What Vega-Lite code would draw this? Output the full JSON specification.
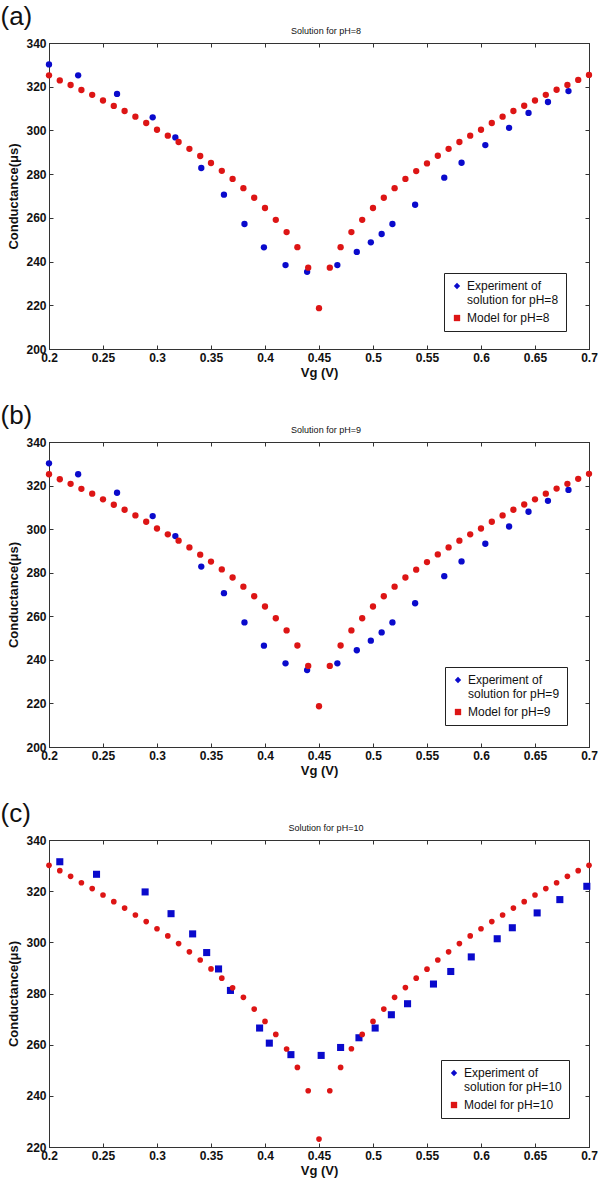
{
  "$schema": "https://vega.github.io/schema/vega-lite/v6.json",
  "background": "white",
  "padding": {"left": 0, "top": 3, "right": 0, "bottom": 0},
  "spacing": 22,
  "config": {
    "font": "Liberation Sans",
    "view": {"stroke": "#333", "strokeWidth": 1},
    "axis": {"grid": false, "labelFlush": false, "domainColor": "#333", "tickColor": "#333", "tickSize": -4, "labelFont": "Liberation Sans", "labelFontWeight": "bold", "labelFontSize": 12, "labelColor": "#111", "labelPadding": 7, "titleFont": "Liberation Sans", "titleFontSize": 13, "titleFontWeight": "bold", "titleColor": "#111"},
    "title": {"font": "Liberation Sans", "color": "#111"},
    "legend": {"title": null, "orient": "none", "strokeColor": "#222", "fillColor": "white", "padding": 7, "labelFont": "Liberation Sans", "labelFontSize": 12, "labelColor": "#111", "symbolSize": 40, "rowPadding": 6, "symbolStrokeWidth": 0}
  },
  "datasets": {
    "expAB": [
      {"v": 0.2, "c": 330.2, "series": "exp"}, {"v": 0.227, "c": 325.2, "series": "exp"}, {"v": 0.263, "c": 316.7, "series": "exp"}, {"v": 0.296, "c": 306.0, "series": "exp"}, {"v": 0.317, "c": 296.8, "series": "exp"}, {"v": 0.341, "c": 282.8, "series": "exp"}, {"v": 0.362, "c": 270.6, "series": "exp"}, {"v": 0.381, "c": 257.2, "series": "exp"}, {"v": 0.399, "c": 246.5, "series": "exp"}, {"v": 0.419, "c": 238.4, "series": "exp"}, {"v": 0.439, "c": 235.3, "series": "exp"}, {"v": 0.467, "c": 238.4, "series": "exp"}, {"v": 0.485, "c": 244.4, "series": "exp"}, {"v": 0.498, "c": 248.8, "series": "exp"}, {"v": 0.508, "c": 252.6, "series": "exp"}, {"v": 0.518, "c": 257.2, "series": "exp"}, {"v": 0.539, "c": 266.0, "series": "exp"}, {"v": 0.566, "c": 278.4, "series": "exp"}, {"v": 0.582, "c": 285.2, "series": "exp"}, {"v": 0.604, "c": 293.3, "series": "exp"}, {"v": 0.626, "c": 301.2, "series": "exp"}, {"v": 0.644, "c": 308.0, "series": "exp"}, {"v": 0.662, "c": 313.0, "series": "exp"}, {"v": 0.681, "c": 318.0, "series": "exp"}
    ],
    "modelAB": [
      {"v": 0.20, "c": 325.2, "series": "model"}, {"v": 0.21, "c": 322.9, "series": "model"}, {"v": 0.22, "c": 320.8, "series": "model"}, {"v": 0.23, "c": 318.5, "series": "model"}, {"v": 0.24, "c": 316.3, "series": "model"}, {"v": 0.25, "c": 313.7, "series": "model"}, {"v": 0.26, "c": 311.2, "series": "model"}, {"v": 0.27, "c": 308.9, "series": "model"}, {"v": 0.28, "c": 306.3, "series": "model"}, {"v": 0.29, "c": 303.4, "series": "model"}, {"v": 0.30, "c": 300.3, "series": "model"}, {"v": 0.31, "c": 297.6, "series": "model"}, {"v": 0.32, "c": 294.7, "series": "model"}, {"v": 0.33, "c": 291.6, "series": "model"}, {"v": 0.34, "c": 288.3, "series": "model"}, {"v": 0.35, "c": 285.1, "series": "model"}, {"v": 0.36, "c": 281.5, "series": "model"}, {"v": 0.37, "c": 277.8, "series": "model"}, {"v": 0.38, "c": 273.6, "series": "model"}, {"v": 0.39, "c": 269.2, "series": "model"}, {"v": 0.40, "c": 264.5, "series": "model"}, {"v": 0.41, "c": 259.1, "series": "model"}, {"v": 0.42, "c": 253.5, "series": "model"}, {"v": 0.43, "c": 246.6, "series": "model"}, {"v": 0.44, "c": 237.2, "series": "model"}, {"v": 0.45, "c": 218.7, "series": "model"}, {"v": 0.46, "c": 237.2, "series": "model"}, {"v": 0.47, "c": 246.6, "series": "model"}, {"v": 0.48, "c": 253.5, "series": "model"}, {"v": 0.49, "c": 259.1, "series": "model"}, {"v": 0.50, "c": 264.5, "series": "model"}, {"v": 0.51, "c": 269.2, "series": "model"}, {"v": 0.52, "c": 273.6, "series": "model"}, {"v": 0.53, "c": 277.8, "series": "model"}, {"v": 0.54, "c": 281.4, "series": "model"}, {"v": 0.55, "c": 284.9, "series": "model"}, {"v": 0.56, "c": 288.4, "series": "model"}, {"v": 0.57, "c": 291.6, "series": "model"}, {"v": 0.58, "c": 294.7, "series": "model"}, {"v": 0.59, "c": 297.6, "series": "model"}, {"v": 0.60, "c": 300.3, "series": "model"}, {"v": 0.61, "c": 303.4, "series": "model"}, {"v": 0.62, "c": 306.3, "series": "model"}, {"v": 0.63, "c": 308.9, "series": "model"}, {"v": 0.64, "c": 311.3, "series": "model"}, {"v": 0.65, "c": 313.7, "series": "model"}, {"v": 0.66, "c": 316.3, "series": "model"}, {"v": 0.67, "c": 318.6, "series": "model"}, {"v": 0.68, "c": 320.8, "series": "model"}, {"v": 0.69, "c": 323.1, "series": "model"}, {"v": 0.70, "c": 325.4, "series": "model"}
    ],
    "expC": [
      {"v": 0.21, "c": 331.5, "series": "exp"}, {"v": 0.244, "c": 326.6, "series": "exp"}, {"v": 0.289, "c": 319.7, "series": "exp"}, {"v": 0.313, "c": 311.2, "series": "exp"}, {"v": 0.333, "c": 303.3, "series": "exp"}, {"v": 0.346, "c": 296.0, "series": "exp"}, {"v": 0.357, "c": 289.6, "series": "exp"}, {"v": 0.368, "c": 281.2, "series": "exp"}, {"v": 0.395, "c": 266.5, "series": "exp"}, {"v": 0.404, "c": 260.6, "series": "exp"}, {"v": 0.424, "c": 256.1, "series": "exp"}, {"v": 0.452, "c": 255.8, "series": "exp"}, {"v": 0.47, "c": 258.9, "series": "exp"}, {"v": 0.487, "c": 262.7, "series": "exp"}, {"v": 0.502, "c": 266.5, "series": "exp"}, {"v": 0.517, "c": 271.7, "series": "exp"}, {"v": 0.532, "c": 276.0, "series": "exp"}, {"v": 0.556, "c": 283.7, "series": "exp"}, {"v": 0.572, "c": 288.6, "series": "exp"}, {"v": 0.591, "c": 294.3, "series": "exp"}, {"v": 0.615, "c": 301.4, "series": "exp"}, {"v": 0.629, "c": 305.7, "series": "exp"}, {"v": 0.652, "c": 311.5, "series": "exp"}, {"v": 0.673, "c": 316.7, "series": "exp"}, {"v": 0.698, "c": 321.9, "series": "exp"}
    ],
    "modelC": [
      {"v": 0.20, "c": 330.1, "series": "model"}, {"v": 0.21, "c": 328.0, "series": "model"}, {"v": 0.22, "c": 325.8, "series": "model"}, {"v": 0.23, "c": 323.3, "series": "model"}, {"v": 0.24, "c": 321.0, "series": "model"}, {"v": 0.25, "c": 318.5, "series": "model"}, {"v": 0.26, "c": 315.9, "series": "model"}, {"v": 0.27, "c": 313.4, "series": "model"}, {"v": 0.28, "c": 310.7, "series": "model"}, {"v": 0.29, "c": 308.1, "series": "model"}, {"v": 0.30, "c": 305.3, "series": "model"}, {"v": 0.31, "c": 302.5, "series": "model"}, {"v": 0.32, "c": 299.5, "series": "model"}, {"v": 0.33, "c": 296.3, "series": "model"}, {"v": 0.34, "c": 293.1, "series": "model"}, {"v": 0.35, "c": 289.6, "series": "model"}, {"v": 0.36, "c": 286.0, "series": "model"}, {"v": 0.37, "c": 282.2, "series": "model"}, {"v": 0.38, "c": 278.5, "series": "model"}, {"v": 0.39, "c": 273.9, "series": "model"}, {"v": 0.40, "c": 269.1, "series": "model"}, {"v": 0.41, "c": 264.0, "series": "model"}, {"v": 0.42, "c": 258.3, "series": "model"}, {"v": 0.43, "c": 251.1, "series": "model"}, {"v": 0.44, "c": 242.0, "series": "model"}, {"v": 0.45, "c": 223.1, "series": "model"}, {"v": 0.46, "c": 242.0, "series": "model"}, {"v": 0.47, "c": 251.1, "series": "model"}, {"v": 0.48, "c": 258.4, "series": "model"}, {"v": 0.49, "c": 264.0, "series": "model"}, {"v": 0.50, "c": 269.1, "series": "model"}, {"v": 0.51, "c": 273.9, "series": "model"}, {"v": 0.52, "c": 278.5, "series": "model"}, {"v": 0.53, "c": 282.3, "series": "model"}, {"v": 0.54, "c": 286.0, "series": "model"}, {"v": 0.55, "c": 289.5, "series": "model"}, {"v": 0.56, "c": 293.1, "series": "model"}, {"v": 0.57, "c": 296.3, "series": "model"}, {"v": 0.58, "c": 299.5, "series": "model"}, {"v": 0.59, "c": 302.5, "series": "model"}, {"v": 0.60, "c": 305.3, "series": "model"}, {"v": 0.61, "c": 308.1, "series": "model"}, {"v": 0.62, "c": 310.7, "series": "model"}, {"v": 0.63, "c": 313.4, "series": "model"}, {"v": 0.64, "c": 315.9, "series": "model"}, {"v": 0.65, "c": 318.5, "series": "model"}, {"v": 0.66, "c": 321.0, "series": "model"}, {"v": 0.67, "c": 323.3, "series": "model"}, {"v": 0.68, "c": 325.8, "series": "model"}, {"v": 0.69, "c": 328.0, "series": "model"}, {"v": 0.70, "c": 330.1, "series": "model"}
    ]
  },
  "resolve": {"scale": {"color": "independent", "shape": "independent"}},
  "vconcat": [
    {
      "title": {"text": "(a)", "anchor": "start", "frame": "bounds", "fontSize": 26, "fontWeight": "normal", "offset": -3, "dx": -7},
      "vconcat": [
        {
          "title": {"text": "Solution for pH=8", "fontSize": 9, "fontWeight": "normal", "offset": 1, "frame": "group", "dx": 7},
          "width": 540, "height": 306,
          "resolve": {"axis": {"x": "independent", "y": "independent"}},
          "layer": [
            {
              "data": {"name": "expAB"},
              "mark": {"type": "point", "filled": true, "size": 12, "opacity": 1},
              "encoding": {
                "x": {"field": "v", "type": "quantitative", "scale": {"domain": [0.2, 0.7], "nice": false, "zero": false}, "axis": {"orient": "bottom", "title": "Vg (V)", "values": [0.2, 0.25, 0.3, 0.35, 0.4, 0.45, 0.5, 0.55, 0.6, 0.65, 0.7], "format": "~g", "titlePadding": 3}},
                "y": {"field": "c", "type": "quantitative", "scale": {"domain": [200, 340], "nice": false, "zero": false}, "axis": {"orient": "left", "title": "Conductance(μs)", "values": [200, 220, 240, 260, 280, 300, 320, 340], "titlePadding": 5}},
                "color": {"field": "series", "type": "nominal", "scale": {"domain": ["exp", "model"], "range": ["#0a0acc", "#dd1515"]}, "legend": {"legendX": 395, "legendY": 230, "labelExpr": "datum.value == 'exp' ? ['Experiment of', 'solution for pH=8'] : 'Model for pH=8'"}},
                "shape": {"field": "series", "type": "nominal", "scale": {"domain": ["exp", "model"], "range": ["diamond", "square"]}, "legend": {"legendX": 395, "legendY": 230, "labelExpr": "datum.value == 'exp' ? ['Experiment of', 'solution for pH=8'] : 'Model for pH=8'"}}
              }
            },
            {
              "data": {"name": "expAB"},
              "mark": {"type": "point", "shape": "circle", "filled": true, "size": 40, "opacity": 1},
              "encoding": {
                "x": {"field": "v", "type": "quantitative", "axis": null},
                "y": {"field": "c", "type": "quantitative", "axis": null},
                "color": {"field": "series", "type": "nominal"}
              }
            },
            {
              "data": {"name": "modelAB"},
              "mark": {"type": "point", "shape": "circle", "filled": true, "size": 40, "opacity": 1},
              "encoding": {
                "x": {"field": "v", "type": "quantitative", "axis": {"orient": "top", "labels": false, "title": null, "values": [0.2, 0.25, 0.3, 0.35, 0.4, 0.45, 0.5, 0.55, 0.6, 0.65, 0.7]}},
                "y": {"field": "c", "type": "quantitative", "axis": {"orient": "right", "labels": false, "title": null, "values": [200, 220, 240, 260, 280, 300, 320, 340]}},
                "color": {"field": "series", "type": "nominal"}
              }
            }
          ]
        }
      ]
    },
    {
      "title": {"text": "(b)", "anchor": "start", "frame": "bounds", "fontSize": 26, "fontWeight": "normal", "offset": -3, "dx": -7},
      "vconcat": [
        {
          "title": {"text": "Solution for pH=9", "fontSize": 9, "fontWeight": "normal", "offset": 1, "frame": "group", "dx": 7},
          "width": 540, "height": 305,
          "resolve": {"axis": {"x": "independent", "y": "independent"}},
          "layer": [
            {
              "data": {"name": "expAB"},
              "mark": {"type": "point", "filled": true, "size": 12, "opacity": 1},
              "encoding": {
                "x": {"field": "v", "type": "quantitative", "scale": {"domain": [0.2, 0.7], "nice": false, "zero": false}, "axis": {"orient": "bottom", "title": "Vg (V)", "values": [0.2, 0.25, 0.3, 0.35, 0.4, 0.45, 0.5, 0.55, 0.6, 0.65, 0.7], "format": "~g", "titlePadding": 3}},
                "y": {"field": "c", "type": "quantitative", "scale": {"domain": [200, 340], "nice": false, "zero": false}, "axis": {"orient": "left", "title": "Conductance(μs)", "values": [200, 220, 240, 260, 280, 300, 320, 340], "titlePadding": 5}},
                "color": {"field": "series", "type": "nominal", "scale": {"domain": ["exp", "model"], "range": ["#0a0acc", "#dd1515"]}, "legend": {"legendX": 396, "legendY": 225, "labelExpr": "datum.value == 'exp' ? ['Experiment of', 'solution for pH=9'] : 'Model for pH=9'"}},
                "shape": {"field": "series", "type": "nominal", "scale": {"domain": ["exp", "model"], "range": ["diamond", "square"]}, "legend": {"legendX": 396, "legendY": 225, "labelExpr": "datum.value == 'exp' ? ['Experiment of', 'solution for pH=9'] : 'Model for pH=9'"}}
              }
            },
            {
              "data": {"name": "expAB"},
              "mark": {"type": "point", "shape": "circle", "filled": true, "size": 40, "opacity": 1},
              "encoding": {
                "x": {"field": "v", "type": "quantitative", "axis": null},
                "y": {"field": "c", "type": "quantitative", "axis": null},
                "color": {"field": "series", "type": "nominal"}
              }
            },
            {
              "data": {"name": "modelAB"},
              "mark": {"type": "point", "shape": "circle", "filled": true, "size": 40, "opacity": 1},
              "encoding": {
                "x": {"field": "v", "type": "quantitative", "axis": {"orient": "top", "labels": false, "title": null, "values": [0.2, 0.25, 0.3, 0.35, 0.4, 0.45, 0.5, 0.55, 0.6, 0.65, 0.7]}},
                "y": {"field": "c", "type": "quantitative", "axis": {"orient": "right", "labels": false, "title": null, "values": [200, 220, 240, 260, 280, 300, 320, 340]}},
                "color": {"field": "series", "type": "nominal"}
              }
            }
          ]
        }
      ]
    },
    {
      "title": {"text": "(c)", "anchor": "start", "frame": "bounds", "fontSize": 26, "fontWeight": "normal", "offset": -3, "dx": -7},
      "vconcat": [
        {
          "title": {"text": "Solution for pH=10", "fontSize": 9, "fontWeight": "normal", "offset": 1, "frame": "group", "dx": 7},
          "width": 540, "height": 307,
          "resolve": {"axis": {"x": "independent", "y": "independent"}},
          "layer": [
            {
              "data": {"name": "expC"},
              "mark": {"type": "point", "filled": true, "size": 12, "opacity": 1},
              "encoding": {
                "x": {"field": "v", "type": "quantitative", "scale": {"domain": [0.2, 0.7], "nice": false, "zero": false}, "axis": {"orient": "bottom", "title": "Vg (V)", "values": [0.2, 0.25, 0.3, 0.35, 0.4, 0.45, 0.5, 0.55, 0.6, 0.65, 0.7], "format": "~g", "titlePadding": 3}},
                "y": {"field": "c", "type": "quantitative", "scale": {"domain": [220, 340], "nice": false, "zero": false}, "axis": {"orient": "left", "title": "Conductance(μs)", "values": [220, 240, 260, 280, 300, 320, 340], "titlePadding": 5}},
                "color": {"field": "series", "type": "nominal", "scale": {"domain": ["exp", "model"], "range": ["#0a0acc", "#dd1515"]}, "legend": {"legendX": 392, "legendY": 220, "labelExpr": "datum.value == 'exp' ? ['Experiment of', 'solution for pH=10'] : 'Model for pH=10'"}},
                "shape": {"field": "series", "type": "nominal", "scale": {"domain": ["exp", "model"], "range": ["diamond", "square"]}, "legend": {"legendX": 392, "legendY": 220, "labelExpr": "datum.value == 'exp' ? ['Experiment of', 'solution for pH=10'] : 'Model for pH=10'"}}
              }
            },
            {
              "data": {"name": "expC"},
              "mark": {"type": "point", "shape": "square", "filled": true, "size": 50, "opacity": 1},
              "encoding": {
                "x": {"field": "v", "type": "quantitative", "axis": null},
                "y": {"field": "c", "type": "quantitative", "axis": null},
                "color": {"field": "series", "type": "nominal"}
              }
            },
            {
              "data": {"name": "modelC"},
              "mark": {"type": "point", "shape": "circle", "filled": true, "size": 32, "opacity": 1},
              "encoding": {
                "x": {"field": "v", "type": "quantitative", "axis": {"orient": "top", "labels": false, "title": null, "values": [0.2, 0.25, 0.3, 0.35, 0.4, 0.45, 0.5, 0.55, 0.6, 0.65, 0.7]}},
                "y": {"field": "c", "type": "quantitative", "axis": {"orient": "right", "labels": false, "title": null, "values": [220, 240, 260, 280, 300, 320, 340]}},
                "color": {"field": "series", "type": "nominal"}
              }
            }
          ]
        }
      ]
    }
  ]
}
